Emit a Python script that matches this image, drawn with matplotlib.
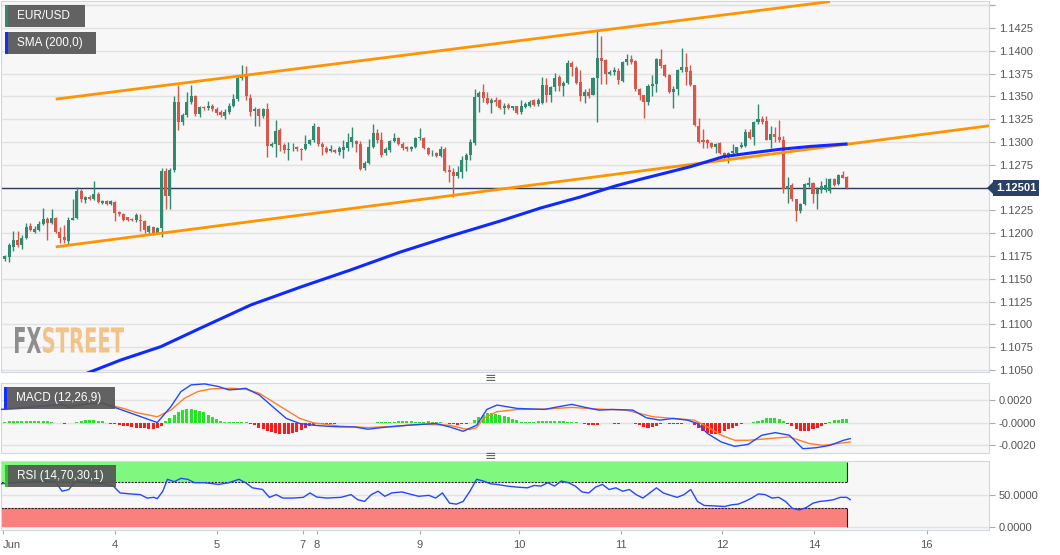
import numpy as np
import matplotlib
matplotlib.use('Agg')
import matplotlib.pyplot as plt
from matplotlib.patches import Rectangle, Polygon, PathPatch
from matplotlib.textpath import TextPath
from matplotlib.font_manager import FontProperties
from matplotlib.transforms import Affine2D, IdentityTransform

plt.rcParams['font.family'] = ['Liberation Sans', 'DejaVu Sans']

W, H = 1060, 555

# hourly EUR/USD candles
opens = [
    1.11715, 1.1174, 1.1185, 1.1193, 1.1187, 1.1195, 1.1208, 1.1201, 1.1204, 1.1210,
    1.1216, 1.1211, 1.1217, 1.1201, 1.1196, 1.1191, 1.1215, 1.1217, 1.1246, 1.1236,
    1.1240, 1.1238, 1.1243, 1.1233, 1.1235, 1.1232, 1.1234, 1.1223, 1.1221, 1.1218,
    1.1216, 1.1214, 1.1215, 1.1213, 1.1201, 1.1207, 1.1200, 1.1206, 1.1268, 1.1241,
    1.1269, 1.1344, 1.1322, 1.1330, 1.1344, 1.1350, 1.1331, 1.1338, 1.1337, 1.1339,
    1.1336, 1.1333, 1.1329, 1.1333, 1.1340, 1.1347, 1.1370, 1.1373, 1.1348, 1.1334,
    1.1336, 1.1328, 1.1336, 1.1296, 1.1298, 1.1313, 1.1297, 1.1291, 1.1294, 1.1295,
    1.1292, 1.1292, 1.1298, 1.1302, 1.1316, 1.1298, 1.1293, 1.1290, 1.1291, 1.1289,
    1.1291, 1.1293, 1.1300, 1.1301, 1.1298, 1.1271, 1.1277, 1.1294, 1.1310, 1.1302,
    1.1288, 1.1291, 1.1301, 1.1304, 1.1298, 1.1295, 1.1292, 1.1295, 1.1304, 1.1304,
    1.1293, 1.1288, 1.1288, 1.1285, 1.1292, 1.1269, 1.1267, 1.1263, 1.1267, 1.1280,
    1.1286, 1.1299, 1.1349, 1.1355, 1.1348, 1.1343, 1.1346, 1.1346, 1.1337, 1.1341,
    1.1337, 1.1339, 1.1333, 1.1338, 1.1339, 1.1346, 1.1342, 1.1343, 1.1363, 1.1351,
    1.1360, 1.1371, 1.1361, 1.1365, 1.1387, 1.1381, 1.1366, 1.1350, 1.1355, 1.1352,
    1.1370, 1.1392, 1.1390, 1.1375, 1.1377, 1.1378, 1.1367, 1.1388, 1.1391, 1.1389,
    1.1358, 1.1351, 1.1344, 1.1361, 1.1364, 1.1391, 1.1384, 1.1373, 1.1355, 1.1358,
    1.1379, 1.1382, 1.1378, 1.1362, 1.1318, 1.1302, 1.1302, 1.1299, 1.1294, 1.1299,
    1.1288, 1.1283, 1.1288, 1.1288, 1.1294, 1.1296, 1.1311, 1.1306, 1.1322, 1.1325,
    1.1323, 1.1302, 1.1309, 1.1306, 1.1302, 1.1248, 1.1253, 1.1237, 1.1224, 1.1232,
    1.1253, 1.1255, 1.1243, 1.1247, 1.1247, 1.1246, 1.1259, 1.1254, 1.1264, 1.1262,
]
highs = [
    1.1176, 1.1189, 1.1202, 1.1202, 1.1198, 1.1211, 1.1211, 1.1208, 1.1213, 1.1228,
    1.1218, 1.1227, 1.1218, 1.1207, 1.1209, 1.1218, 1.1237, 1.1251, 1.1249, 1.1241,
    1.1242, 1.1257, 1.1245, 1.1236, 1.1236, 1.1236, 1.1235, 1.1224, 1.1222, 1.1218,
    1.1217, 1.1222, 1.1221, 1.1215, 1.1209, 1.1208, 1.1207, 1.1272, 1.1272, 1.1272,
    1.1350, 1.1362, 1.1332, 1.1355, 1.1362, 1.1352, 1.1339, 1.1340, 1.1345, 1.1342,
    1.1338, 1.1335, 1.1336, 1.1343, 1.1353, 1.1374, 1.1384, 1.1383, 1.1353, 1.1338,
    1.1337, 1.1337, 1.1343, 1.1300, 1.1324, 1.1315, 1.1299, 1.1300, 1.1299, 1.1296,
    1.1293, 1.1308, 1.1303, 1.1321, 1.1317, 1.1300, 1.1296, 1.1297, 1.1292, 1.1296,
    1.1302, 1.1310, 1.1316, 1.1302, 1.1301, 1.1279, 1.1303, 1.1320, 1.1314, 1.1311,
    1.1295, 1.1302, 1.1310, 1.1305, 1.1300, 1.1296, 1.1296, 1.1305, 1.1315, 1.1305,
    1.1294, 1.1291, 1.1289, 1.1296, 1.1294, 1.1275, 1.1271, 1.1274, 1.1285, 1.1288,
    1.1303, 1.1358, 1.1356, 1.1364, 1.1355, 1.1348, 1.1349, 1.1347, 1.1343, 1.1343,
    1.1340, 1.1340, 1.1346, 1.1344, 1.1346, 1.1347, 1.1348, 1.1371, 1.1370, 1.1361,
    1.1376, 1.1373, 1.1367, 1.1390, 1.1389, 1.1383, 1.1379, 1.1358, 1.1359, 1.1371,
    1.1423, 1.1416, 1.1391, 1.1379, 1.1382, 1.1381, 1.1389, 1.1396, 1.1395, 1.1390,
    1.1359, 1.1352, 1.1364, 1.1373, 1.1392, 1.1402, 1.1385, 1.1375, 1.1361, 1.1380,
    1.1403, 1.1398, 1.1384, 1.1363, 1.1326, 1.1314, 1.1303, 1.1300, 1.1299, 1.1300,
    1.1289, 1.1289, 1.1298, 1.1295, 1.1300, 1.1314, 1.1314, 1.1323, 1.1342, 1.1328,
    1.1328, 1.1318, 1.1316, 1.1324, 1.1307, 1.1262, 1.1255, 1.1238, 1.1233, 1.1255,
    1.1262, 1.1256, 1.1251, 1.1257, 1.1261, 1.1260, 1.1261, 1.1265, 1.1268, 1.1263,
]
lows = [
    1.1169, 1.1168, 1.1181, 1.1185, 1.1183, 1.1194, 1.1202, 1.1200, 1.1202, 1.1209,
    1.1192, 1.1210, 1.1200, 1.1189, 1.1189, 1.1187, 1.1215, 1.1216, 1.1234, 1.1233,
    1.1236, 1.1236, 1.1233, 1.1232, 1.1231, 1.1231, 1.1213, 1.1219, 1.1213, 1.1213,
    1.1213, 1.1212, 1.1202, 1.1200, 1.1198, 1.1198, 1.1199, 1.1196, 1.1226, 1.1227,
    1.1267, 1.1313, 1.1319, 1.1327, 1.1342, 1.1329, 1.1327, 1.1335, 1.1335, 1.1334,
    1.1330, 1.1327, 1.1325, 1.1331, 1.1338, 1.1345, 1.1368, 1.1346, 1.1328, 1.1317,
    1.1318, 1.1326, 1.1284, 1.1294, 1.1284, 1.1290, 1.1288, 1.1280, 1.1290, 1.1290,
    1.1280, 1.1291, 1.1297, 1.1300, 1.1296, 1.1286, 1.1288, 1.1289, 1.1288, 1.1286,
    1.1282, 1.1290, 1.1295, 1.1289, 1.1269, 1.1269, 1.1276, 1.1293, 1.1299, 1.1284,
    1.1286, 1.1289, 1.1300, 1.1297, 1.1291, 1.1290, 1.1290, 1.1293, 1.1302, 1.1292,
    1.1286, 1.1285, 1.1284, 1.1284, 1.1267, 1.1256, 1.1240, 1.1261, 1.1261, 1.1268,
    1.1280, 1.1297, 1.1333, 1.1344, 1.1342, 1.1332, 1.1340, 1.1336, 1.1331, 1.1336,
    1.1335, 1.1331, 1.1331, 1.1337, 1.1338, 1.1340, 1.1340, 1.1342, 1.1344, 1.1344,
    1.1356, 1.1356, 1.1350, 1.1364, 1.1372, 1.1364, 1.1345, 1.1343, 1.1348, 1.1351,
    1.1322, 1.1364, 1.1364, 1.1374, 1.1373, 1.1364, 1.1366, 1.1384, 1.1386, 1.1356,
    1.1346, 1.1326, 1.1341, 1.1350, 1.1355, 1.1381, 1.1371, 1.1354, 1.1337, 1.1352,
    1.1377, 1.1362, 1.1361, 1.1318, 1.1299, 1.1293, 1.1293, 1.1293, 1.1288, 1.1287,
    1.1281, 1.1277, 1.1286, 1.1287, 1.1293, 1.1294, 1.1303, 1.1297, 1.1320, 1.1320,
    1.1302, 1.1293, 1.1300, 1.1300, 1.1244, 1.1233, 1.1235, 1.1213, 1.1222, 1.1231,
    1.1251, 1.1233, 1.1227, 1.1244, 1.1245, 1.1244, 1.1252, 1.1253, 1.1260, 1.1248,
]
closes = [
    1.11745, 1.1187, 1.1193, 1.1187, 1.1195, 1.1207, 1.1204, 1.1205, 1.1210, 1.1216,
    1.1211, 1.1217, 1.1201, 1.1195, 1.1192, 1.1215, 1.1217, 1.1246, 1.1237, 1.1240,
    1.1238, 1.1243, 1.1234, 1.1235, 1.1232, 1.1235, 1.1222, 1.1221, 1.1215, 1.1214,
    1.1215, 1.1220, 1.1213, 1.1203, 1.1208, 1.1200, 1.1206, 1.1268, 1.1241, 1.1269,
    1.1344, 1.1322, 1.1330, 1.1344, 1.1350, 1.1331, 1.1338, 1.1337, 1.1339, 1.1336,
    1.1332, 1.1330, 1.1333, 1.1340, 1.1347, 1.1370, 1.1373, 1.1350, 1.1333, 1.1336,
    1.1328, 1.1336, 1.1296, 1.1298, 1.1312, 1.1297, 1.1291, 1.1292, 1.1295, 1.1292,
    1.1291, 1.1298, 1.1302, 1.1317, 1.1298, 1.1294, 1.1289, 1.1292, 1.1289, 1.1293,
    1.1295, 1.1300, 1.1306, 1.1298, 1.1270, 1.1277, 1.1294, 1.1310, 1.1302, 1.1286,
    1.1292, 1.1301, 1.1304, 1.1298, 1.1293, 1.1292, 1.1295, 1.1304, 1.1305, 1.1293,
    1.1287, 1.1288, 1.1285, 1.1292, 1.1268, 1.1267, 1.1263, 1.1267, 1.1280, 1.1286,
    1.1300, 1.1349, 1.1354, 1.1348, 1.1343, 1.1346, 1.1344, 1.1337, 1.1340, 1.1337,
    1.1339, 1.1332, 1.1340, 1.1342, 1.1344, 1.1341, 1.1346, 1.1363, 1.1351, 1.1360,
    1.1370, 1.1361, 1.1365, 1.1387, 1.1382, 1.1365, 1.1350, 1.1355, 1.1350, 1.1370,
    1.1392, 1.1389, 1.1375, 1.1377, 1.1379, 1.1368, 1.1388, 1.1391, 1.1388, 1.1358,
    1.1351, 1.1344, 1.1361, 1.1364, 1.1391, 1.1383, 1.1372, 1.1355, 1.1358, 1.1379,
    1.1382, 1.1377, 1.1362, 1.1319, 1.1300, 1.1300, 1.1299, 1.1294, 1.1298, 1.1288,
    1.1282, 1.1288, 1.1290, 1.1294, 1.1297, 1.1311, 1.1304, 1.1322, 1.1325, 1.1322,
    1.1302, 1.1309, 1.1306, 1.1302, 1.1248, 1.1252, 1.1237, 1.1224, 1.1232, 1.1254,
    1.1255, 1.1243, 1.1248, 1.1252, 1.1253, 1.1259, 1.1253, 1.1264, 1.1261, 1.12501,
]
last_price = 1.12501

# SMA(200) line, sampled at candle positions
sma_idx = [19.5, 27.4, 36.8, 46.3, 58.1, 69.9, 81.7, 93.5, 105.3, 117.1, 126.6, 136.0,
           144.3, 150.2, 162.0, 169.8, 176.2, 183.2, 190.3, 198.8]
sma_vals = [1.10467, 1.10610, 1.10755, 1.10961, 1.11213, 1.11410, 1.11597, 1.11794,
            1.11969, 1.12134, 1.12276, 1.12397, 1.12518, 1.12591, 1.12729, 1.12839,
            1.12879, 1.12920, 1.12951, 1.12978]

# hand-drawn channel (start/end candle, price)
upper_idx = [12, 195]
upper_px = [1.1347, 1.1454]
lower_idx = [12, 233]
lower_px = [1.1185, 1.1318]

# MACD (12,26,9)
macd_idx = [-0.9, 3.9, 8.7, 13.5, 15.1, 19.9, 23.2, 28.8, 34.4, 36.0, 39.2, 41.6, 44.0, 47.2,
            50.5, 52.9, 55.3, 56.9, 60.1, 63.3, 66.5, 69.7, 72.9, 76.1, 79.4, 82.6, 85.8, 89.0,
            95.4, 101.8, 105.1, 108.3, 111.5, 113.9, 116.3, 121.1, 127.5, 130.8, 134.0, 137.2,
            140.4, 143.6, 148.4, 151.6, 154.8, 158.0, 161.3, 163.7, 166.1, 169.3, 172.5, 175.7,
            178.9, 182.1, 185.4, 188.6, 191.8, 195.0, 198.2, 199.8]
macd_vals = [0.00116, 0.00125, 0.00146, 0.00161, 0.00134, 0.00170, 0.00170, 0.00096, 0.00021, 0.0,
             0.00140, 0.00275, 0.00334, 0.00343, 0.00319, 0.00290, 0.00296, 0.00304, 0.00245, 0.00140,
             0.00036, -0.00009, -0.00024, -0.00033, -0.00039, -0.00039, -0.00060, -0.00045, -0.00024, -0.00009,
             -0.00039, -0.00078, -0.00024, 0.00116, 0.00155, 0.00125, 0.00116, 0.00140, 0.00161, 0.00134,
             0.00110, 0.00116, 0.00110, 0.00042, 0.00021, 0.00036, 0.00021, -0.00009, -0.00099, -0.00173,
             -0.00212, -0.00194, -0.00113, -0.00090, -0.00113, -0.00233, -0.00224, -0.00203, -0.00158, -0.00143]
signal_idx = [-0.9, 7.1, 15.1, 23.2, 28.0, 31.2, 36.0, 39.2, 42.4, 45.6, 48.8, 53.7, 56.9, 60.1,
              63.3, 66.5, 69.7, 72.9, 79.4, 85.8, 92.2, 98.6, 105.1, 108.3, 109.9, 111.5, 113.1,
              116.3, 121.1, 127.5, 134.0, 140.4, 146.8, 153.2, 158.0, 162.9, 166.1, 169.3, 172.5,
              175.7, 180.5, 185.4, 190.2, 193.4, 196.6, 199.8]
signal_vals = [0.00116, 0.00146, 0.00155, 0.00170, 0.00125, 0.00087, 0.00051, 0.00110, 0.00215, 0.00275,
               0.00299, 0.00304, 0.00296, 0.00260, 0.00185, 0.00110, 0.00036, -0.00003, -0.00033, -0.00045,
               -0.00033, -0.00015, -0.00024, -0.00054, -0.00063, -0.00045, 0.00036, 0.00096, 0.00116, 0.00119,
               0.00134, 0.00119, 0.00110, 0.00051, 0.00036, 0.00021, -0.00039, -0.00113, -0.00158, -0.00158,
               -0.00143, -0.00128, -0.00188, -0.00203, -0.00188, -0.00173]
# histogram per candle, in 1e-5
hist = [
    8, 10, 12, 14, 15, 16, 16, 15, 14, 12, 10, 6,
    -4, -8, -10, -8, -4,
    5, 12, 18, 20, 20, 16, 10,
    -5, -10, -15, -22, -28, -34, -40, -45, -50, -52, -54, -55, -50, -35,
    15, 40, 70, 95, 110, 118, 120, 115, 105, 90, 70, 50, 30, 15,
    8, 6, 5, 6, 4, 2,
    -10, -25, -45, -60, -75, -85, -95, -100, -100, -98, -90, -80, -65, -50, -35, -20,
    -15, -12, -10, -10, -9, -8, -8, -7, -6, -5, -4,
    -3, -2, -1, 2, 3, 4, 5, 8, 10, 12, 12, 10, 8, 6, 8, 10, 8, 5, 2,
    -5, -10, -15, -18, -15, -10, -4,
    20, 50, 70, 80, 82, 78, 70, 60, 45, 30, 18, 8,
    5, 6, 8, 10, 12, 14, 15, 14, 12, 10, 8, 6, 3,
    -5, -12, -20, -24, -18, -8,
    -4, -8, -10, -9, -7, -5, -3,
    -10, -25, -38, -45, -40, -28, -12,
    -5, -10, -15, -15, -12, -8, -4,
    -20, -45, -75, -95, -100, -98, -90, -75, -60, -45, -30, -15,
    -5, -2, 3,
    10, 25, 38, 42, 40, 30, 15,
    -10, -30, -55, -72, -78, -75, -62, -45, -28, -12,
    8, 18, 25, 30, 30,
]

# RSI (14)
rsi_idx = [-0.9, 2.3, 5.5, 8.7, 11.9, 13.5, 15.1, 16.7, 19.9, 23.2,
           25.6, 27.2, 29.6, 32.0, 33.6, 35.2, 36.0, 37.3, 38.4, 40.0,
           41.6, 43.2, 44.8, 47.2, 50.5, 52.9, 55.3, 56.9, 58.5, 60.9,
           62.5, 64.1, 65.7, 68.1, 70.5, 72.1, 73.7, 76.1, 79.4, 81.8,
           83.4, 85.0, 86.6, 88.2, 89.8, 91.4, 93.8, 96.2, 97.8, 100.2,
           101.8, 103.4, 105.1, 106.7, 108.3, 109.9, 111.5, 113.1, 114.7, 116.3,
           118.7, 121.1, 123.5, 125.1, 126.7, 128.3, 129.9, 131.5, 133.2, 134.8,
           136.4, 138.0, 139.6, 141.2, 142.8, 144.4, 146.0, 147.6, 149.2, 150.8,
           152.4, 154.0, 155.6, 157.3, 158.9, 160.5, 162.1, 163.7, 165.3, 167.7,
           170.1, 171.7, 173.3, 174.9, 176.5, 178.1, 179.7, 181.3, 182.9, 184.5,
           186.1, 187.8, 189.4, 191.0, 192.6, 194.2, 195.8, 197.4, 199.0, 199.8]
rsi_vals = [66.8, 68.4, 70.0, 71.0, 70.0, 55.3, 57.9, 71.0, 68.4, 66.8,
            63.2, 52.6, 51.1, 50.0, 44.7, 45.8, 43.7, 55.3, 73.7, 70.0,
            75.2, 73.7, 68.4, 68.4, 65.8, 68.4, 73.7, 68.4, 60.5, 57.9,
            45.8, 50.0, 44.7, 44.7, 45.8, 52.6, 46.3, 44.7, 45.8, 50.0,
            42.1, 39.5, 50.0, 55.3, 47.4, 52.6, 54.2, 50.0, 47.4, 48.9,
            44.7, 52.6, 36.8, 35.3, 39.5, 55.3, 73.7, 71.0, 66.8, 65.8,
            63.2, 61.6, 60.5, 64.2, 63.2, 68.4, 63.2, 71.0, 68.4, 63.2,
            54.2, 52.6, 61.6, 65.8, 57.9, 60.5, 55.3, 57.9, 50.0, 44.7,
            52.6, 60.5, 52.6, 48.9, 45.8, 50.0, 57.9, 39.5, 33.2, 32.6,
            31.6, 34.2, 35.3, 39.5, 44.7, 51.1, 50.0, 44.7, 45.8, 39.5,
            28.9, 26.3, 30.0, 36.8, 39.5, 40.5, 42.1, 45.8, 45.8, 42.1]

# x axis: candle index of each day label
date_ticks = [-0.5, 26.0, 50.1, 70.4, 73.7, 98.0, 121.6, 145.7, 169.5, 191.3, 217.9]
date_labels = ['Jun', '4', '5', '7', '8', '9', '10', '11', '12', '14', '16']

price_ticks = [round(1.1050 + 0.0025 * k, 4) for k in range(17)]

GREEN = '#2f8a70'
RED = '#d8574a'
ORANGE = '#ff9400'
BG = '#f7f7f7'
EDGE = '#d2d7e6'
TICK = '#555555'


def px_rect(x0, y0, x1, y1):
    # pixel box (top-left origin) -> figure fraction [l, b, w, h]
    return [x0 / W, 1 - y1 / H, (x1 - x0) / W, (y1 - y0) / H]


def style(ax):
    ax.set_facecolor(BG)
    for s in ax.spines.values():
        s.set_color(EDGE)
    ax.yaxis.tick_right()
    ax.tick_params(axis='y', length=4, color='#aaaaaa', labelcolor=TICK, labelsize=8, pad=3)
    ax.grid(axis='y', color='#e2e2e2', lw=1)
    ax.set_axisbelow(True)


fig = plt.figure(figsize=(W / 100, H / 100), dpi=100, facecolor='white')
ax = fig.add_axes(px_rect(1, 1, 989, 372))
ax_macd = fig.add_axes(px_rect(1, 383, 989, 453), sharex=ax)
ax_rsi = fig.add_axes(px_rect(1, 461, 989, 530), sharex=ax)
for a in (ax, ax_macd, ax_rsi):
    style(a)

# --- price panel
o = np.array(opens)
c = np.array(closes)
hi = np.array(highs)
lo = np.array(lows)
xs = np.arange(len(c))
cols = np.where(c >= o, GREEN, RED)
ax.vlines(xs, lo, hi, colors=cols, lw=1, zorder=3)
ax.bar(xs, np.maximum(np.abs(c - o), 0.00004), bottom=np.minimum(o, c),
       width=0.72, color=cols, lw=0, zorder=3)

ax.axhline(last_price, color='#2d3d5c', lw=1, zorder=2)
ax.plot(upper_idx, upper_px, color=ORANGE, lw=2, zorder=4, solid_capstyle='butt')
ax.plot(lower_idx, lower_px, color=ORANGE, lw=2, zorder=4, solid_capstyle='butt')
ax.plot(sma_idx, sma_vals, color='#1029ff', lw=2.2, zorder=5)

ax.set_xlim(-0.94, 232.6)
ax.set_ylim(1.10478, 1.14546)
ax.set_yticks(price_ticks + [1.1450])
ax.set_yticklabels(['' if abs(v - 1.1250) < 1e-6 else f'{v:.4f}' for v in price_ticks] + [''])
ax.tick_params(axis='x', bottom=False, labelbottom=False)

# --- MACD panel
h = np.array(hist) * 1e-5
ax_macd.bar(xs, h, width=0.72, color=np.where(h >= 0, '#22e622', '#ff1a1a'), lw=0, zorder=3)
ax_macd.plot(signal_idx, signal_vals, color='#ff7f27', lw=1, zorder=4)
ax_macd.plot(macd_idx, macd_vals, color='#2448ff', lw=1, zorder=5)
ax_macd.set_ylim(-0.00271, 0.00351)
ax_macd.set_yticks([0.002, 0.0, -0.002])
ax_macd.set_yticklabels(['0.0020', '-0.0000', '-0.0020'])
ax_macd.tick_params(axis='x', bottom=False, labelbottom=False)

# --- RSI panel
band_end = 199
ax_rsi.fill_between([-0.94, band_end], 70, 100, color='#80f880', lw=0, zorder=1)
ax_rsi.fill_between([-0.94, band_end], 0, 30, color='#fa7f7f', lw=0, zorder=1)
ax_rsi.hlines([70, 30], -0.94, band_end, colors='#222222', lw=0.8, linestyles=(0, (2, 1)), zorder=2)
ax_rsi.vlines([band_end, band_end], [0, 70], [30, 100], colors='#222222', lw=0.8, zorder=2)
ax_rsi.plot(rsi_idx, rsi_vals, color='#2448ff', lw=1, zorder=4)
ax_rsi.set_ylim(-4.7, 102)
ax_rsi.set_yticks([50, 0])
ax_rsi.set_yticklabels(['50.0000', '0.0000'])
ax_rsi.set_xticks(date_ticks)
ax_rsi.set_xticklabels(date_labels)
ax_rsi.tick_params(axis='x', length=3, color='#aaaaaa', labelcolor=TICK, labelsize=8, pad=4)
ax_rsi.get_xticklabels()[0].set_horizontalalignment('left')


# --- overlays: legend boxes, separators, last price tag, watermark
def label_box(x0, y0, x1, y1, strip, text):
    l, b, w, hh = px_rect(x0, y0, x1, y1)
    fig.add_artist(Rectangle((l, b), w, hh, transform=fig.transFigure,
                             fc='#555555', alpha=0.92, ec='none', zorder=5))
    fig.add_artist(Rectangle((l, b), 3 / W, hh, transform=fig.transFigure,
                             fc=strip, ec='none', zorder=6))
    fig.text((x0 + 12) / W, 1 - (y0 + y1) / 2 / H, text, color='white',
             fontsize=8.5, va='center', zorder=7)


label_box(5, 5, 85, 27, '#2e8b6e', 'EUR/USD')
label_box(5, 32, 96, 54, '#1030ff', 'SMA (200,0)')
label_box(4, 387, 115, 409, '#1030ff', 'MACD (12,26,9)')
label_box(5, 465, 116, 487, '#22cc22', 'RSI (14,70,30,1)')

for ysep in (378, 456):
    fig.text(490 / W, 1 - ysep / H, '\u2261', color='#666666', fontsize=10,
             ha='center', va='center', family='DejaVu Sans')

fig.text(1016 / W, 1 - 188 / H, f'{last_price:.5f}', color='white', fontsize=8,
         weight='bold', ha='center', va='center',
         bbox=dict(boxstyle='square,pad=0.3', fc='#2b4065', ec='none'))
fig.add_artist(Polygon([(987, H - 188), (993, H - 182), (993, H - 194)], closed=True,
                       transform=IdentityTransform(), fc='#2b4065', ec='none'))


def logo_word(word, x0, x1, y_top, y_bot, color):
    tp = TextPath((0, 0), word, size=10, prop=FontProperties(family='DejaVu Sans', weight='bold'))
    ext = tp.get_extents()
    tr = (Affine2D().translate(-ext.x0, -ext.y0)
          .scale((x1 - x0) / ext.width, (y_bot - y_top) / ext.height)
          .translate(x0, H - y_bot))
    fig.add_artist(PathPatch(tp, transform=tr, fc=color, ec='none', zorder=1))


logo_word('FX', 15, 41, 327, 353, '#8e8e8e')
logo_word('STREET', 43, 124, 327, 353, '#f2c388')

fig.savefig('out.png', dpi=100, facecolor='white')
